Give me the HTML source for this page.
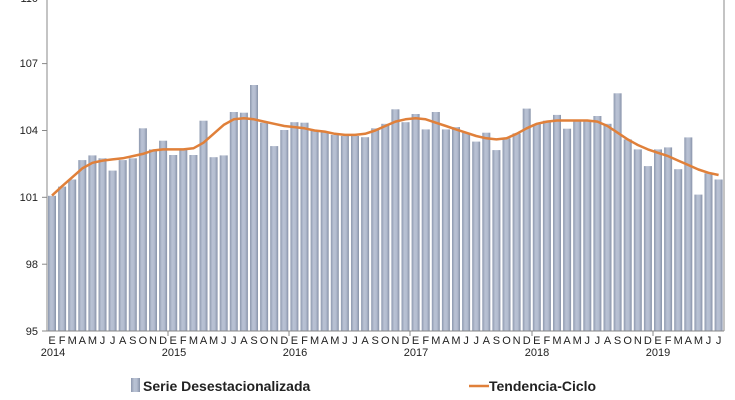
<!DOCTYPE html>
<html><head><meta charset="utf-8"><style>
html,body{margin:0;padding:0;background:#fff;}
svg{display:block;font-family:"Liberation Sans",sans-serif;}
</style></head><body>
<svg width="735" height="400" viewBox="0 0 735 400" xmlns="http://www.w3.org/2000/svg">
<defs>
<linearGradient id="g" x1="0" x2="1" y1="0" y2="0">
<stop offset="0" stop-color="#8d98ae"/><stop offset="0.35" stop-color="#b9c2d4"/><stop offset="0.65" stop-color="#b4bdd0"/><stop offset="1" stop-color="#8792a8"/>
</linearGradient>
</defs>
<line x1="724" y1="0" x2="724" y2="331" stroke="#888" stroke-width="1"/>
<g fill="url(#g)">
<rect x="48.0" y="195.8" width="8" height="135.2"/><rect x="58.1" y="186.6" width="8" height="144.4"/><rect x="68.2" y="179.5" width="8" height="151.5"/><rect x="78.3" y="160.1" width="8" height="170.9"/><rect x="88.4" y="155.4" width="8" height="175.6"/><rect x="98.5" y="158.3" width="8" height="172.7"/><rect x="108.6" y="170.6" width="8" height="160.4"/><rect x="118.7" y="160.1" width="8" height="170.9"/><rect x="128.8" y="158.3" width="8" height="172.7"/><rect x="138.9" y="128.3" width="8" height="202.7"/><rect x="149.0" y="149.4" width="8" height="181.6"/><rect x="159.1" y="140.7" width="8" height="190.3"/><rect x="169.2" y="155.0" width="8" height="176.0"/><rect x="179.3" y="149.4" width="8" height="181.6"/><rect x="189.4" y="155.0" width="8" height="176.0"/><rect x="199.5" y="120.7" width="8" height="210.3"/><rect x="209.6" y="157.2" width="8" height="173.8"/><rect x="219.7" y="155.4" width="8" height="175.6"/><rect x="229.8" y="112.0" width="8" height="219.0"/><rect x="239.9" y="112.7" width="8" height="218.3"/><rect x="250.0" y="85.0" width="8" height="246.0"/><rect x="260.1" y="122.7" width="8" height="208.3"/><rect x="270.2" y="146.1" width="8" height="184.9"/><rect x="280.3" y="130.0" width="8" height="201.0"/><rect x="290.4" y="122.2" width="8" height="208.8"/><rect x="300.5" y="122.7" width="8" height="208.3"/><rect x="310.6" y="130.5" width="8" height="200.5"/><rect x="320.7" y="131.6" width="8" height="199.4"/><rect x="330.8" y="134.9" width="8" height="196.1"/><rect x="340.9" y="136.0" width="8" height="195.0"/><rect x="351.0" y="136.0" width="8" height="195.0"/><rect x="361.1" y="137.2" width="8" height="193.8"/><rect x="371.2" y="128.3" width="8" height="202.7"/><rect x="381.3" y="123.8" width="8" height="207.2"/><rect x="391.4" y="109.3" width="8" height="221.7"/><rect x="401.5" y="122.2" width="8" height="208.8"/><rect x="411.6" y="114.0" width="8" height="217.0"/><rect x="421.7" y="129.4" width="8" height="201.6"/><rect x="431.8" y="112.0" width="8" height="219.0"/><rect x="441.9" y="129.4" width="8" height="201.6"/><rect x="452.0" y="127.1" width="8" height="203.9"/><rect x="462.1" y="132.7" width="8" height="198.3"/><rect x="472.2" y="141.6" width="8" height="189.4"/><rect x="482.3" y="132.7" width="8" height="198.3"/><rect x="492.4" y="150.1" width="8" height="180.9"/><rect x="502.5" y="138.3" width="8" height="192.7"/><rect x="512.6" y="133.4" width="8" height="197.6"/><rect x="522.7" y="108.6" width="8" height="222.4"/><rect x="532.8" y="124.0" width="8" height="207.0"/><rect x="542.9" y="120.7" width="8" height="210.3"/><rect x="553.0" y="114.9" width="8" height="216.1"/><rect x="563.1" y="128.7" width="8" height="202.3"/><rect x="573.2" y="120.7" width="8" height="210.3"/><rect x="583.3" y="120.2" width="8" height="210.8"/><rect x="593.4" y="116.0" width="8" height="215.0"/><rect x="603.5" y="123.8" width="8" height="207.2"/><rect x="613.6" y="93.3" width="8" height="237.7"/><rect x="623.7" y="139.4" width="8" height="191.6"/><rect x="633.8" y="149.4" width="8" height="181.6"/><rect x="643.9" y="166.1" width="8" height="164.9"/><rect x="654.0" y="149.4" width="8" height="181.6"/><rect x="664.1" y="147.4" width="8" height="183.6"/><rect x="674.2" y="169.2" width="8" height="161.8"/><rect x="684.3" y="137.4" width="8" height="193.6"/><rect x="694.4" y="194.6" width="8" height="136.4"/><rect x="704.5" y="173.3" width="8" height="157.7"/><rect x="714.6" y="179.5" width="8" height="151.5"/>
</g>
<polyline fill="none" stroke="#e0803a" stroke-width="2.5" stroke-linejoin="round" points="52,195.6 62.1,186.2 72.2,177.3 82.3,168.4 92.4,162.8 102.5,160.6 112.6,159.4 122.7,158.3 132.8,156.1 142.9,153.9 153,150.5 163.1,149.4 173.2,149.4 183.3,149.4 193.4,148.3 203.5,142.7 213.6,133.8 223.7,124.9 233.8,119.3 243.9,118.2 254,119.3 264.1,121.6 274.2,123.8 284.3,126 294.4,127.1 304.5,128.3 314.6,130.5 324.7,131.6 334.8,133.8 344.9,134.9 355,134.9 365.1,133.8 375.2,130.5 385.3,126 395.4,121.6 405.5,119.3 415.6,118.2 425.7,119.3 435.8,122.7 445.9,126 456,129.4 466.1,132.7 476.2,136 486.3,138.3 496.4,139.4 506.5,138.3 516.6,133.8 526.7,128.3 536.8,123.8 546.9,121.6 557,120.5 567.1,120.5 577.2,120.5 587.3,120.5 597.4,121.6 607.5,126 617.6,132.7 627.7,139.4 637.8,145 647.9,149.4 658,152.8 668.1,156.1 678.2,160.6 688.3,165 698.4,169.5 708.5,172.8 718.6,175"/>
<g stroke="#888" stroke-width="1">
<line x1="47" y1="0" x2="47" y2="331"/><line x1="47" y1="331" x2="724" y2="331"/>
<line x1="42" y1="63.6" x2="47" y2="63.6"/><line x1="42" y1="130.5" x2="47" y2="130.5"/><line x1="42" y1="197.3" x2="47" y2="197.3"/><line x1="42" y1="264.2" x2="47" y2="264.2"/><line x1="42" y1="331" x2="47" y2="331"/>
<line x1="168" y1="331" x2="168" y2="336"/><line x1="289" y1="331" x2="289" y2="336"/><line x1="410" y1="331" x2="410" y2="336"/><line x1="532" y1="331" x2="532" y2="336"/><line x1="653" y1="331" x2="653" y2="336"/>
</g>
<g font-size="11" fill="#222" text-anchor="end">
<text x="38" y="2">110</text><text x="38" y="67">107</text><text x="38" y="134">104</text><text x="38" y="201">101</text><text x="38" y="268">98</text><text x="38" y="335">95</text>
</g>
<g font-size="11" fill="#222" text-anchor="middle" letter-spacing="0">
<text y="344"><tspan x="52">E</tspan><tspan x="62.1">F</tspan><tspan x="72.2">M</tspan><tspan x="82.3">A</tspan><tspan x="92.4">M</tspan><tspan x="102.5">J</tspan><tspan x="112.6">J</tspan><tspan x="122.7">A</tspan><tspan x="132.8">S</tspan><tspan x="142.9">O</tspan><tspan x="153">N</tspan><tspan x="163.1">D</tspan><tspan x="173.2">E</tspan><tspan x="183.3">F</tspan><tspan x="193.4">M</tspan><tspan x="203.5">A</tspan><tspan x="213.6">M</tspan><tspan x="223.7">J</tspan><tspan x="233.8">J</tspan><tspan x="243.9">A</tspan><tspan x="254">S</tspan><tspan x="264.1">O</tspan><tspan x="274.2">N</tspan><tspan x="284.3">D</tspan><tspan x="294.4">E</tspan><tspan x="304.5">F</tspan><tspan x="314.6">M</tspan><tspan x="324.7">A</tspan><tspan x="334.8">M</tspan><tspan x="344.9">J</tspan><tspan x="355">J</tspan><tspan x="365.1">A</tspan><tspan x="375.2">S</tspan><tspan x="385.3">O</tspan><tspan x="395.4">N</tspan><tspan x="405.5">D</tspan><tspan x="415.6">E</tspan><tspan x="425.7">F</tspan><tspan x="435.8">M</tspan><tspan x="445.9">A</tspan><tspan x="456">M</tspan><tspan x="466.1">J</tspan><tspan x="476.2">J</tspan><tspan x="486.3">A</tspan><tspan x="496.4">S</tspan><tspan x="506.5">O</tspan><tspan x="516.6">N</tspan><tspan x="526.7">D</tspan><tspan x="536.8">E</tspan><tspan x="546.9">F</tspan><tspan x="557">M</tspan><tspan x="567.1">A</tspan><tspan x="577.2">M</tspan><tspan x="587.3">J</tspan><tspan x="597.4">J</tspan><tspan x="607.5">A</tspan><tspan x="617.6">S</tspan><tspan x="627.7">O</tspan><tspan x="637.8">N</tspan><tspan x="647.9">D</tspan><tspan x="658">E</tspan><tspan x="668.1">F</tspan><tspan x="678.2">M</tspan><tspan x="688.3">A</tspan><tspan x="698.4">M</tspan><tspan x="708.5">J</tspan><tspan x="718.6">J</tspan></text>
<text y="356"><tspan x="53">2014</tspan><tspan x="174">2015</tspan><tspan x="295">2016</tspan><tspan x="416">2017</tspan><tspan x="537">2018</tspan><tspan x="658">2019</tspan></text>
</g>
<rect x="131" y="378" width="9" height="14" fill="url(#g)"/>
<text x="143" y="391" font-size="14" font-weight="bold" fill="#222">Serie Desestacionalizada</text>
<line x1="469" y1="386" x2="489" y2="386" stroke="#e0803a" stroke-width="2.5"/>
<text x="489" y="391" font-size="14" font-weight="bold" fill="#222">Tendencia-Ciclo</text>
</svg>
</body></html>
